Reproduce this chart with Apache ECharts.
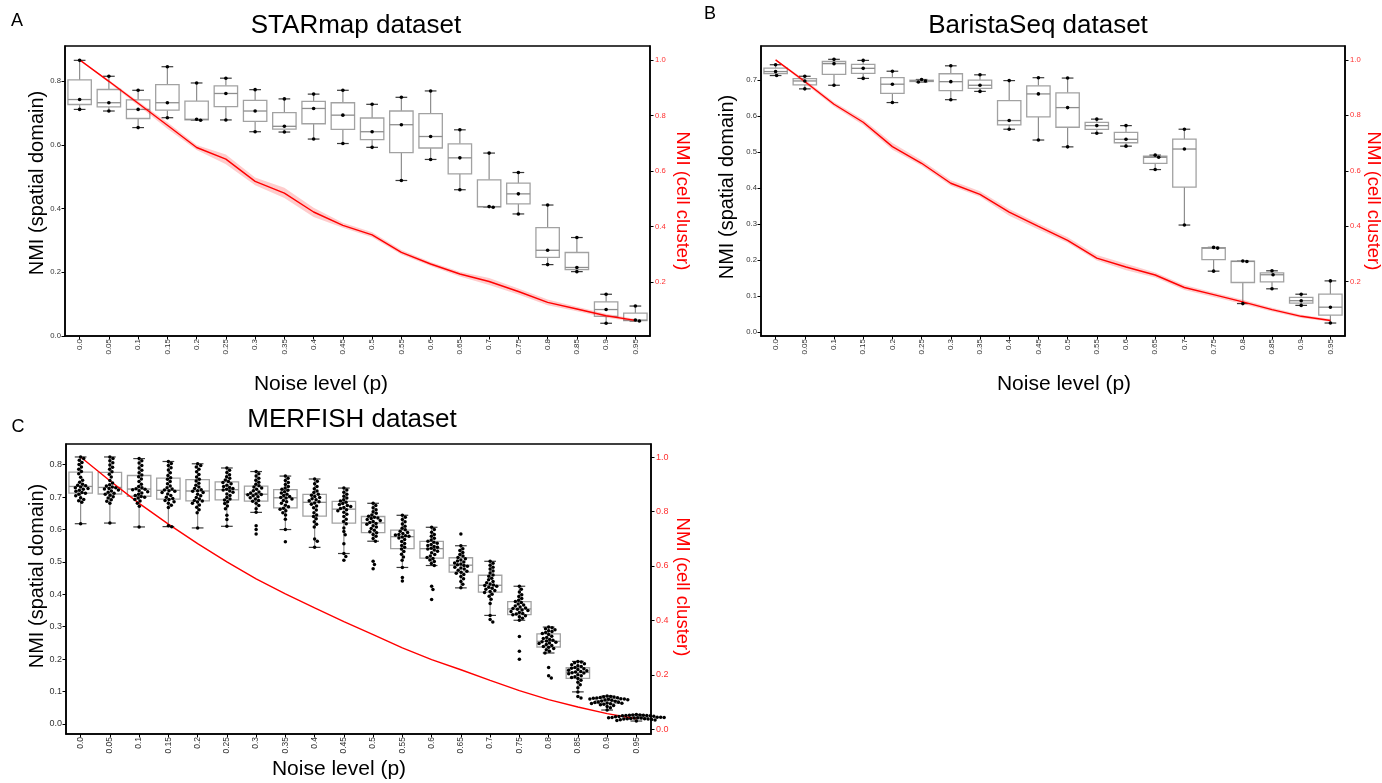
<!DOCTYPE html>
<html>
<head>
<meta charset="utf-8">
<script src="https://cdn.jsdelivr.net/npm/echarts@6/dist/echarts.min.js"></script>
<style>
  html, body { margin: 0; padding: 0; background: #fff; }
  #chart { width: 1382px; height: 783px; }
</style>
</head>
<body>
<div id="chart"></div>
<script>
// ---- categories and tick labels ----
const noiseLevels = ['0.0','0.05','0.1','0.15','0.2','0.25','0.3','0.35','0.4','0.45',
                     '0.5','0.55','0.6','0.65','0.7','0.75','0.8','0.85','0.9','0.95'];
const starmapLeftTicks  = ['0.0','0.2','0.4','0.6','0.8'];
const baristaLeftTicks  = ['0.0','0.1','0.2','0.3','0.4','0.5','0.6','0.7'];
const merfishLeftTicks  = ['0.0','0.1','0.2','0.3','0.4','0.5','0.6','0.7','0.8'];
const cellTicksAB       = ['0.2','0.4','0.6','0.8','1.0'];
const cellTicksC        = ['0.0','0.2','0.4','0.6','0.8','1.0'];

// ---- STARmap: NMI (spatial domain), three runs per noise level ----
const starmapSpatial = [
  [0.865,0.742,0.711],[0.815,0.732,0.706],[0.771,0.711,0.654],[0.845,0.732,0.685],
  [0.794,0.680,0.677],[0.809,0.761,0.678],[0.773,0.706,0.641],[0.744,0.658,0.640],
  [0.759,0.714,0.618],[0.771,0.693,0.604],[0.727,0.641,0.592],[0.749,0.663,0.488],
  [0.769,0.626,0.554],[0.647,0.559,0.459],[0.574,0.406,0.404],[0.513,0.446,0.383],
  [0.411,0.269,0.224],[0.309,0.215,0.202],[0.131,0.083,0.040],[0.094,0.050,0.047]
];
// STARmap: NMI (cell cluster), mean and band
const starmapCell     = [1.000,0.923,0.844,0.765,0.685,0.643,0.563,0.521,0.453,0.405,0.371,0.308,0.266,0.230,0.203,0.167,0.128,0.104,0.080,0.063];
const starmapCellLow  = [1.000,0.918,0.836,0.752,0.676,0.625,0.549,0.503,0.435,0.396,0.362,0.300,0.259,0.221,0.190,0.156,0.118,0.096,0.073,0.058];
const starmapCellHigh = [1.000,0.928,0.851,0.776,0.694,0.660,0.577,0.540,0.468,0.414,0.380,0.316,0.273,0.238,0.216,0.178,0.138,0.112,0.087,0.068];

// ---- BaristaSeq ----
const baristaSpatial = [
  [0.742,0.723,0.712],[0.710,0.697,0.675],[0.757,0.745,0.685],[0.754,0.732,0.704],
  [0.724,0.688,0.637],[0.701,0.697,0.694],[0.739,0.695,0.645],[0.714,0.685,0.668],
  [0.698,0.587,0.563],[0.706,0.661,0.533],[0.705,0.623,0.514],[0.591,0.573,0.552],
  [0.573,0.535,0.516],[0.491,0.485,0.451],[0.563,0.508,0.297],[0.235,0.233,0.169],
  [0.197,0.196,0.079],[0.170,0.159,0.120],[0.105,0.087,0.074],[0.142,0.069,0.025]
];
const baristaCell     = [1.000,0.922,0.840,0.775,0.687,0.627,0.555,0.515,0.451,0.399,0.349,0.285,0.253,0.224,0.179,0.153,0.127,0.099,0.075,0.060];
const baristaCellLow  = [0.998,0.915,0.832,0.765,0.676,0.618,0.546,0.506,0.438,0.388,0.340,0.276,0.241,0.215,0.170,0.145,0.119,0.092,0.069,0.055];
const baristaCellHigh = [1.002,0.929,0.848,0.785,0.700,0.638,0.566,0.526,0.462,0.410,0.360,0.296,0.265,0.233,0.188,0.161,0.135,0.106,0.081,0.065];

// ---- MERFISH: one value per slice at each noise level ----
const merfishSpatial = [
  [0.618,0.684,0.689,0.693,0.698,0.704,0.709,0.712,0.714,0.718,0.721,0.724,0.727,0.729,0.731,0.735,0.737,0.740,0.746,0.752,0.761,0.772,0.779,0.786,0.793,0.801,0.807,0.814,0.819,0.824],
  [0.620,0.681,0.687,0.692,0.697,0.701,0.706,0.709,0.712,0.715,0.719,0.722,0.725,0.727,0.729,0.731,0.734,0.738,0.744,0.751,0.762,0.771,0.778,0.786,0.792,0.799,0.806,0.812,0.819,0.824],
  [0.608,0.672,0.681,0.688,0.693,0.697,0.700,0.702,0.705,0.709,0.713,0.717,0.720,0.723,0.724,0.726,0.729,0.733,0.740,0.748,0.756,0.763,0.768,0.775,0.783,0.790,0.798,0.805,0.812,0.819],
  [0.609,0.612,0.668,0.675,0.681,0.686,0.690,0.693,0.696,0.700,0.705,0.710,0.714,0.718,0.720,0.722,0.725,0.729,0.734,0.741,0.748,0.755,0.760,0.767,0.775,0.784,0.791,0.798,0.804,0.810],
  [0.605,0.652,0.661,0.669,0.676,0.681,0.685,0.688,0.690,0.694,0.699,0.704,0.709,0.714,0.718,0.720,0.723,0.727,0.731,0.737,0.743,0.750,0.755,0.762,0.770,0.778,0.786,0.793,0.798,0.803],
  [0.610,0.631,0.644,0.664,0.673,0.680,0.686,0.691,0.694,0.699,0.705,0.710,0.715,0.719,0.722,0.724,0.727,0.730,0.733,0.737,0.741,0.745,0.748,0.753,0.758,0.763,0.769,0.776,0.783,0.790],
  [0.586,0.600,0.612,0.653,0.664,0.674,0.681,0.687,0.690,0.694,0.698,0.701,0.704,0.707,0.708,0.710,0.713,0.716,0.720,0.724,0.728,0.731,0.735,0.740,0.746,0.752,0.758,0.765,0.772,0.779],
  [0.562,0.600,0.632,0.645,0.652,0.658,0.663,0.666,0.670,0.675,0.681,0.686,0.690,0.694,0.697,0.699,0.702,0.705,0.709,0.713,0.717,0.721,0.724,0.728,0.733,0.739,0.745,0.751,0.758,0.765],
  [0.545,0.564,0.571,0.608,0.616,0.624,0.633,0.640,0.645,0.652,0.660,0.667,0.673,0.678,0.682,0.686,0.689,0.692,0.695,0.699,0.702,0.706,0.709,0.714,0.719,0.726,0.733,0.741,0.749,0.756],
  [0.505,0.517,0.526,0.556,0.584,0.594,0.605,0.618,0.625,0.632,0.640,0.647,0.653,0.658,0.661,0.665,0.668,0.671,0.674,0.677,0.680,0.684,0.688,0.692,0.697,0.703,0.709,0.715,0.722,0.728],
  [0.479,0.492,0.502,0.564,0.572,0.579,0.585,0.590,0.593,0.598,0.603,0.608,0.612,0.616,0.619,0.622,0.625,0.628,0.631,0.634,0.636,0.638,0.641,0.645,0.650,0.655,0.661,0.667,0.674,0.681],
  [0.441,0.452,0.483,0.505,0.515,0.524,0.532,0.540,0.545,0.551,0.557,0.563,0.569,0.574,0.577,0.579,0.581,0.583,0.585,0.588,0.591,0.595,0.599,0.604,0.610,0.617,0.624,0.631,0.638,0.644],
  [0.384,0.415,0.425,0.489,0.495,0.501,0.506,0.511,0.514,0.518,0.523,0.528,0.533,0.537,0.540,0.542,0.545,0.548,0.551,0.554,0.558,0.561,0.564,0.568,0.573,0.579,0.585,0.592,0.600,0.607],
  [0.420,0.431,0.440,0.448,0.455,0.461,0.465,0.468,0.471,0.474,0.478,0.481,0.484,0.487,0.489,0.491,0.494,0.497,0.500,0.503,0.506,0.510,0.514,0.518,0.523,0.529,0.535,0.541,0.550,0.586],
  [0.315,0.322,0.335,0.372,0.385,0.394,0.400,0.406,0.409,0.412,0.416,0.419,0.422,0.425,0.427,0.429,0.432,0.436,0.440,0.445,0.450,0.456,0.460,0.466,0.472,0.478,0.484,0.490,0.496,0.502],
  [0.200,0.224,0.270,0.320,0.326,0.331,0.334,0.337,0.339,0.341,0.344,0.347,0.350,0.352,0.354,0.356,0.358,0.361,0.364,0.367,0.370,0.375,0.378,0.382,0.387,0.393,0.399,0.407,0.416,0.425],
  [0.142,0.149,0.174,0.219,0.224,0.229,0.233,0.237,0.239,0.242,0.245,0.248,0.250,0.252,0.254,0.256,0.258,0.261,0.264,0.267,0.271,0.276,0.279,0.282,0.285,0.288,0.291,0.294,0.297,0.299],
  [0.080,0.085,0.099,0.112,0.121,0.129,0.135,0.140,0.143,0.146,0.149,0.152,0.155,0.157,0.158,0.160,0.162,0.164,0.166,0.168,0.170,0.172,0.174,0.177,0.180,0.183,0.186,0.189,0.191,0.193],
  [0.043,0.050,0.054,0.057,0.059,0.061,0.062,0.063,0.064,0.065,0.066,0.067,0.068,0.070,0.071,0.073,0.074,0.075,0.076,0.077,0.077,0.078,0.079,0.080,0.081,0.082,0.083,0.084,0.085,0.086],
  [0.009,0.011,0.012,0.013,0.014,0.015,0.015,0.016,0.016,0.017,0.018,0.018,0.019,0.019,0.020,0.020,0.021,0.021,0.022,0.023,0.024,0.025,0.025,0.026,0.026,0.027,0.027,0.028,0.028,0.029]
];
const merfishCell = [1.000,0.913,0.830,0.754,0.682,0.615,0.553,0.498,0.446,0.396,0.348,0.299,0.256,0.219,0.180,0.142,0.109,0.082,0.058,0.039];

// ---- helpers: box statistics (linear quartiles, 1.5 IQR whiskers) ----
function quantile(sorted, p) {
  const h = (sorted.length - 1) * p;
  const lo = Math.floor(h), hi = Math.ceil(h);
  return sorted[lo] + (sorted[hi] - sorted[lo]) * (h - lo);
}
function boxStats(values) {
  const s = values.slice().sort((a, b) => a - b);
  const q1 = quantile(s, 0.25), med = quantile(s, 0.5), q3 = quantile(s, 0.75);
  const iqr = q3 - q1;
  const lo = s.find(v => v >= q1 - 1.5 * iqr);
  const hi = s.slice().reverse().find(v => v <= q3 + 1.5 * iqr);
  return { q1, med, q3, lo, hi };
}

// beeswarm offsets in pixels for one column of points
function swarmOffsets(ys, d) {
  const order = ys.map((_, k) => k).sort((a, b) => ys[a] - ys[b]);
  const placed = [];
  const xs = new Array(ys.length).fill(0);
  order.forEach(k => {
    const y = ys[k];
    const near = placed.filter(p => Math.abs(p.y - y) < d);
    const cands = [0];
    near.forEach(p => {
      const dx = Math.sqrt(d * d - (p.y - y) * (p.y - y));
      cands.push(p.x + dx, p.x - dx);
    });
    cands.sort((a, b) => Math.abs(a) - Math.abs(b));
    let chosen = cands[cands.length - 1];
    for (const c of cands) {
      if (near.every(p => (p.x - c) * (p.x - c) + (p.y - y) * (p.y - y) >= d * d - 1e-6)) { chosen = c; break; }
    }
    xs[k] = chosen;
    placed.push({ x: chosen, y });
  });
  return xs;
}

function boxRenderer(stats) {
  return function (params, api) {
    const i = params.dataIndex;
    const s = stats[i];
    const band = api.size([1, 0])[0];
    const cx = api.coord([i, s.med])[0];
    const y = v => api.coord([i, v])[1];
    const hw = band * 0.4, cw = band * 0.2;
    const whisk = { stroke: '#8e8e8e', lineWidth: 1.2 };
    const cap = { stroke: '#3a3a3a', lineWidth: 1.2 };
    return {
      type: 'group',
      children: [
        { type: 'line', shape: { x1: cx, y1: y(s.q3), x2: cx, y2: y(s.hi) }, style: whisk },
        { type: 'line', shape: { x1: cx, y1: y(s.q1), x2: cx, y2: y(s.lo) }, style: whisk },
        { type: 'line', shape: { x1: cx - cw, y1: y(s.hi), x2: cx + cw, y2: y(s.hi) }, style: cap },
        { type: 'line', shape: { x1: cx - cw, y1: y(s.lo), x2: cx + cw, y2: y(s.lo) }, style: cap },
        { type: 'rect', shape: { x: cx - hw, y: y(s.q3), width: 2 * hw, height: Math.max(0.5, y(s.q1) - y(s.q3)) },
          style: { fill: '#ffffff', stroke: '#a2a2a2', lineWidth: 1.3 } },
        { type: 'line', shape: { x1: cx - hw, y1: y(s.med), x2: cx + hw, y2: y(s.med) }, style: { stroke: '#8e8e8e', lineWidth: 1.3 } }
      ]
    };
  };
}

function swarmRenderer(groups, r, gap) {
  return function (params, api) {
    const i = params.dataIndex;
    const vals = groups[i];
    const cx = api.coord([i, vals[0]])[0];
    const ys = vals.map(v => api.coord([i, v])[1]);
    const xs = swarmOffsets(ys, 2 * r + gap);
    return {
      type: 'group',
      children: vals.map((v, k) => ({
        type: 'circle', shape: { cx: cx + xs[k], cy: ys[k], r: r }, style: { fill: '#000' }
      }))
    };
  };
}

const FONT = "'Liberation Sans', Arial, Helvetica, sans-serif";

const grids = [
  { left: 65,  top: 46,  width: 585, height: 290 },
  { left: 761, top: 46,  width: 584, height: 290 },
  { left: 66,  top: 444, width: 585, height: 290 }
].map(g => Object.assign(g, { show: true, borderColor: '#000', borderWidth: 1.5, backgroundColor: 'transparent', outerBoundsMode: 'none', containLabel: false }));

function xAxisFor(gi, fs) {
  return {
    type: 'category', gridIndex: gi, data: noiseLevels, boundaryGap: true,
    axisLine: { show: true, onZero: false, lineStyle: { color: '#000', width: 1.5 } },
    axisTick: { show: true, alignWithLabel: true, length: 3.5, lineStyle: { color: '#000', width: 1 } },
    axisLabel: { show: true, interval: 0, rotate: 90, fontSize: fs, color: '#333', margin: 3, fontFamily: FONT },
    splitLine: { show: false }
  };
}
function leftAxisFor(gi, min, max, ticks, fs) {
  const vals = ticks.map(Number);
  return {
    type: 'value', gridIndex: gi, position: 'left', min: min, max: max,
    axisLine: { show: true, onZero: false, lineStyle: { color: '#000', width: 1.5 } },
    axisTick: { show: true, length: 3.5, customValues: vals, lineStyle: { color: '#000', width: 1 } },
    axisLabel: { show: true, customValues: vals, formatter: v => ticks[vals.indexOf(+(+v).toFixed(2))] || (+v).toFixed(1),
                 fontSize: fs, color: '#333', margin: 4, fontFamily: FONT },
    splitLine: { show: false }
  };
}
function rightAxisFor(gi, min, max, ticks, fs) {
  const vals = ticks.map(Number);
  return {
    type: 'value', gridIndex: gi, position: 'right', min: min, max: max,
    axisLine: { show: true, onZero: false, lineStyle: { color: '#000', width: 1.5 } },
    axisTick: { show: true, length: 3.5, customValues: vals, lineStyle: { color: '#000', width: 1 } },
    axisLabel: { show: true, customValues: vals, formatter: v => ticks[vals.indexOf(+(+v).toFixed(2))] || (+v).toFixed(1),
                 fontSize: fs, color: '#ff3030', margin: 5, fontFamily: FONT },
    splitLine: { show: false }
  };
}

const xAxes = [xAxisFor(0, 8), xAxisFor(1, 8), xAxisFor(2, 8.5)];
const yAxes = [
  leftAxisFor(0, 0, 0.91, starmapLeftTicks, 7.7),
  rightAxisFor(0, 0.007, 1.05, cellTicksAB, 7.7),
  leftAxisFor(1, -0.011, 0.794, baristaLeftTicks, 7.7),
  rightAxisFor(1, 0.004, 1.05, cellTicksAB, 7.7),
  leftAxisFor(2, -0.031, 0.864, merfishLeftTicks, 9),
  rightAxisFor(2, -0.017, 1.048, cellTicksC, 9)
];

function panelSeries(k, spatial, cell, low, high, r, gap) {
  const stats = spatial.map(boxStats);
  const out = [
    {
      type: 'custom', name: 'box' + k, xAxisIndex: k, yAxisIndex: 2 * k,
      data: stats.map((s, i) => [i, s.med]), encode: { x: 0, y: 1 },
      renderItem: boxRenderer(stats), z: 2, silent: true
    }
  ];
  if (low && high) {
    out.push({
      type: 'line', xAxisIndex: k, yAxisIndex: 2 * k + 1, stack: 'band' + k, data: low,
      symbol: 'none', lineStyle: { opacity: 0 }, z: 3, silent: true
    });
    out.push({
      type: 'line', xAxisIndex: k, yAxisIndex: 2 * k + 1, stack: 'band' + k,
      data: high.map((h, i) => +(h - low[i]).toFixed(4)),
      symbol: 'none', lineStyle: { opacity: 0 }, areaStyle: { color: 'rgba(255,0,0,0.2)', opacity: 1 }, z: 3, silent: true
    });
  }
  out.push({
    type: 'line', xAxisIndex: k, yAxisIndex: 2 * k + 1, data: cell,
    symbol: 'none', lineStyle: { color: '#ff0000', width: 1.4 }, z: 4, silent: true
  });
  out.push({
    type: 'custom', name: 'dots' + k, xAxisIndex: k, yAxisIndex: 2 * k,
    data: spatial.map((g, i) => [i, g[0]]), encode: { x: 0, y: 1 },
    renderItem: swarmRenderer(spatial, r, gap), z: 5, silent: true
  });
  return out;
}

function txt(text, x, y, size, opts) {
  opts = opts || {};
  return {
    type: 'text', x: x, y: y, rotation: opts.rot || 0, z: 10, silent: true,
    style: { text: text, font: size + 'px ' + FONT, fill: opts.color || '#000', align: 'center', verticalAlign: 'middle' }
  };
}

const graphics = [
  txt('A', 17, 21, 18), txt('B', 710, 14, 18), txt('C', 18, 427, 18),
  txt('STARmap dataset', 356, 26, 26),
  txt('BaristaSeq dataset', 1038, 26, 26),
  txt('MERFISH dataset', 352, 420, 26),
  txt('Noise level (p)', 321, 384, 21),
  txt('Noise level (p)', 1064, 384, 21),
  txt('Noise level (p)', 339, 769, 21),
  txt('NMI (spatial domain)', 37, 183, 20, { rot: Math.PI / 2 }),
  txt('NMI (spatial domain)', 727, 187, 20, { rot: Math.PI / 2 }),
  txt('NMI (spatial domain)', 37, 576, 20, { rot: Math.PI / 2 }),
  txt('NMI (cell cluster)', 682, 201, 18.5, { rot: -Math.PI / 2, color: '#ff0000' }),
  txt('NMI (cell cluster)', 1373, 201, 18.5, { rot: -Math.PI / 2, color: '#ff0000' }),
  txt('NMI (cell cluster)', 682, 587, 18.5, { rot: -Math.PI / 2, color: '#ff0000' })
];

const chart = echarts.init(document.getElementById('chart'), null, { renderer: 'canvas', width: 1382, height: 783 });
chart.setOption({
  animation: false,
  backgroundColor: '#ffffff',
  grid: grids,
  xAxis: xAxes,
  yAxis: yAxes,
  series: [].concat(
    panelSeries(0, starmapSpatial, starmapCell, starmapCellLow, starmapCellHigh, 1.8, 0.5),
    panelSeries(1, baristaSpatial, baristaCell, baristaCellLow, baristaCellHigh, 1.8, 0.5),
    panelSeries(2, merfishSpatial, merfishCell, null, null, 1.75, 0)
  ),
  graphic: graphics
});
</script>
</body>
</html>
